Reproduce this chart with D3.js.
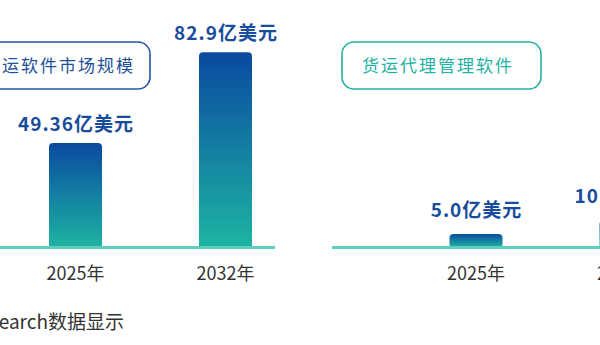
<!DOCTYPE html>
<html>
<head>
<meta charset="utf-8">
<script src="https://cdn.jsdelivr.net/npm/d3@7/dist/d3.min.js"></script>
<style>
  html, body { margin: 0; padding: 0; background: #fff; }
  svg { display: block; font-family: "Noto Sans CJK SC", "Noto Sans", sans-serif; }
</style>
</head>
<body>
<svg width="600" height="345"></svg>
<script>
// left panel: market size, right panel: freight forwarding software
var leftYears = ["2025年", "2032年"]
var leftValues = [49.36, 82.9]
var leftLabels = ["49.36亿美元", "82.9亿美元"]
var leftTitle = "货运软件市场规模"

var rightYears = ["2025年", "2032年"]
var rightValues = [5.0, 10.2]
var rightLabels = ["5.0亿美元", "10.2亿美元"]
var rightTitle = "货运代理管理软件"

var footer = "QYResearch数据显示"

var svg = d3.select("svg")
var baseY = 247
var barW = 53

var defs = svg.append("defs")
var grad = defs.append("linearGradient")
  .attr("id", "barGrad")
  .attr("x1", 0).attr("y1", 0).attr("x2", 0).attr("y2", 1)
grad.append("stop").attr("offset", "0%").attr("stop-color", "#0a4aa0")
grad.append("stop").attr("offset", "100%").attr("stop-color", "#1db4a2")

function topRounded(x, y, w, h, r) {
  r = Math.min(r, h, w / 2)
  return "M" + x + "," + (y + h) +
    "V" + (y + r) +
    "Q" + x + "," + y + " " + (x + r) + "," + y +
    "H" + (x + w - r) +
    "Q" + (x + w) + "," + y + " " + (x + w) + "," + (y + r) +
    "V" + (y + h) + "Z"
}

function panel(opt) {
  var g = svg.append("g")
  var x = d3.scalePoint().domain(opt.years).range(opt.xRange)
  var y = d3.scaleLinear().domain(opt.yDomain).range([baseY, opt.yTop])

  // title box
  g.append("rect")
    .attr("x", opt.box[0]).attr("y", 42)
    .attr("width", opt.box[1] - opt.box[0]).attr("height", 47)
    .attr("rx", 12)
    .attr("fill", "#fff")
    .attr("stroke", opt.boxColor)
    .attr("stroke-width", 1.6)
  g.append("text")
    .attr("x", opt.titleX).attr("y", 72)
    .attr("font-size", 17)
    .attr("letter-spacing", 2)
    .attr("fill", opt.titleColor)
    .text(opt.title)

  opt.years.forEach(function(d, i) {
    var cx = x(d)
    var top = y(opt.values[i])
    g.append("path")
      .attr("d", topRounded(cx - barW / 2, top, barW, baseY - top, 4))
      .attr("fill", "url(#barGrad)")
    g.append("text")
      .attr("x", cx + 0.5).attr("y", top - opt.labelGap)
      .attr("text-anchor", "middle")
      .attr("font-size", 19)
      .attr("font-weight", "bold")
      .attr("letter-spacing", 1)
      .attr("fill", "#1a4c9c")
      .text(opt.labels[i])
    g.append("text")
      .attr("x", cx).attr("y", 280)
      .attr("text-anchor", "middle")
      .attr("font-size", 18)
      .attr("fill", "#333")
      .text(d)
  })

  g.append("line")
    .attr("x1", opt.lineX[0]).attr("x2", opt.lineX[1])
    .attr("y1", baseY + 0.5).attr("y2", baseY + 0.5)
    .attr("stroke", "#5ccfc1")
    .attr("stroke-width", 3)
}

panel({
  years: leftYears, values: leftValues, labels: leftLabels, title: leftTitle,
  xRange: [75.5, 225.5], yDomain: [11, 83], yTop: 52, labelGap: 12,
  box: [-40, 150], boxColor: "#2457a6", titleColor: "#1d4f9a", titleX: -17,
  lineX: [0, 275]
})

panel({
  years: rightYears, values: rightValues, labels: rightLabels, title: rightTitle,
  xRange: [476, 626], yDomain: [0, 10], yTop: 221, labelGap: 17,
  box: [342, 541], boxColor: "#22b2a1", titleColor: "#22b2a1", titleX: 362,
  lineX: [332, 600]
})

svg.append("text")
  .attr("x", 124).attr("y", 329)
  .attr("text-anchor", "end")
  .attr("font-size", 19)
  .attr("fill", "#333")
  .text(footer)
</script>
</body>
</html>
